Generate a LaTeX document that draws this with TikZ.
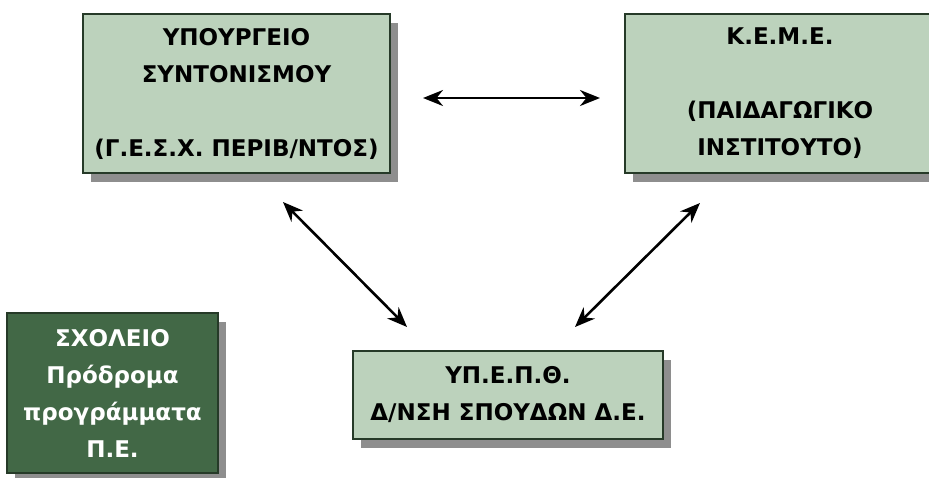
\documentclass[tikz,border=0pt]{standalone}
\usepackage{fontspec}
\setmainfont{DejaVu Sans}
\usetikzlibrary{arrows.meta,shadows}
\definecolor{boxfill}{RGB}{188,210,188}
\definecolor{schoolfill}{RGB}{66,104,70}
\definecolor{boxline}{RGB}{38,58,40}
\definecolor{shade}{RGB}{142,142,142}
\tikzset{
  panel/.style={rectangle, draw=boxline, line width=1.3pt, fill=boxfill,
    align=center, inner sep=0pt,
    font=\fontsize{23}{37}\selectfont\bfseries,
    drop shadow={shadow xshift=8pt, shadow yshift=-9pt, fill=shade, opacity=1}},
  school/.style={panel, fill=schoolfill, text=white},
  link/.style={line width=2.6pt, {Stealth[length=20pt,width=16pt]}-{Stealth[length=20pt,width=16pt]}}
}
\begin{document}
\begin{tikzpicture}[x=1pt,y=-1pt]
  \clip (0,0) rectangle (929,477);
  \useasboundingbox (0,0) rectangle (929,477);
  % ministry box
  \node[panel, minimum width=307pt, minimum height=159pt] (min) at (236.5,93.5)
    {ΥΠΟΥΡΓΕΙΟ\\ΣΥΝΤΟΝΙΣΜΟΥ\\[37pt](Γ.Ε.Σ.Χ. ΠΕΡΙΒ/ΝΤΟΣ)};
  % pedagogical institute box
  \node[panel, minimum width=310pt, minimum height=159pt] (keme) at (780,93.5)
    {Κ.Ε.Μ.Ε.\\[37pt](ΠΑΙΔΑΓΩΓΙΚΟ\\ΙΝΣΤΙΤΟΥΤΟ)};
  % directorate box
  \node[panel, minimum width=310pt, minimum height=88pt] (ypepth) at (508,395)
    {ΥΠ.Ε.Π.Θ.\\Δ/ΝΣΗ ΣΠΟΥΔΩΝ Δ.Ε.};
  % school box
  \node[school, minimum width=211pt, minimum height=160pt] (sch) at (112.5,393)
    {ΣΧΟΛΕΙΟ\\Πρόδρομα\\προγράμματα\\Π.Ε.};
  % connector end points
  \coordinate (h1) at (423,98);
  \coordinate (h2) at (600,98);
  \coordinate (l1) at (283,202);
  \coordinate (l2) at (407,327);
  \coordinate (r1) at (700,203);
  \coordinate (r2) at (575,327);
  \draw[link] (h1) -- (h2);
  \draw[link] (l1) -- (l2);
  \draw[link] (r1) -- (r2);
\end{tikzpicture}
\end{document}
